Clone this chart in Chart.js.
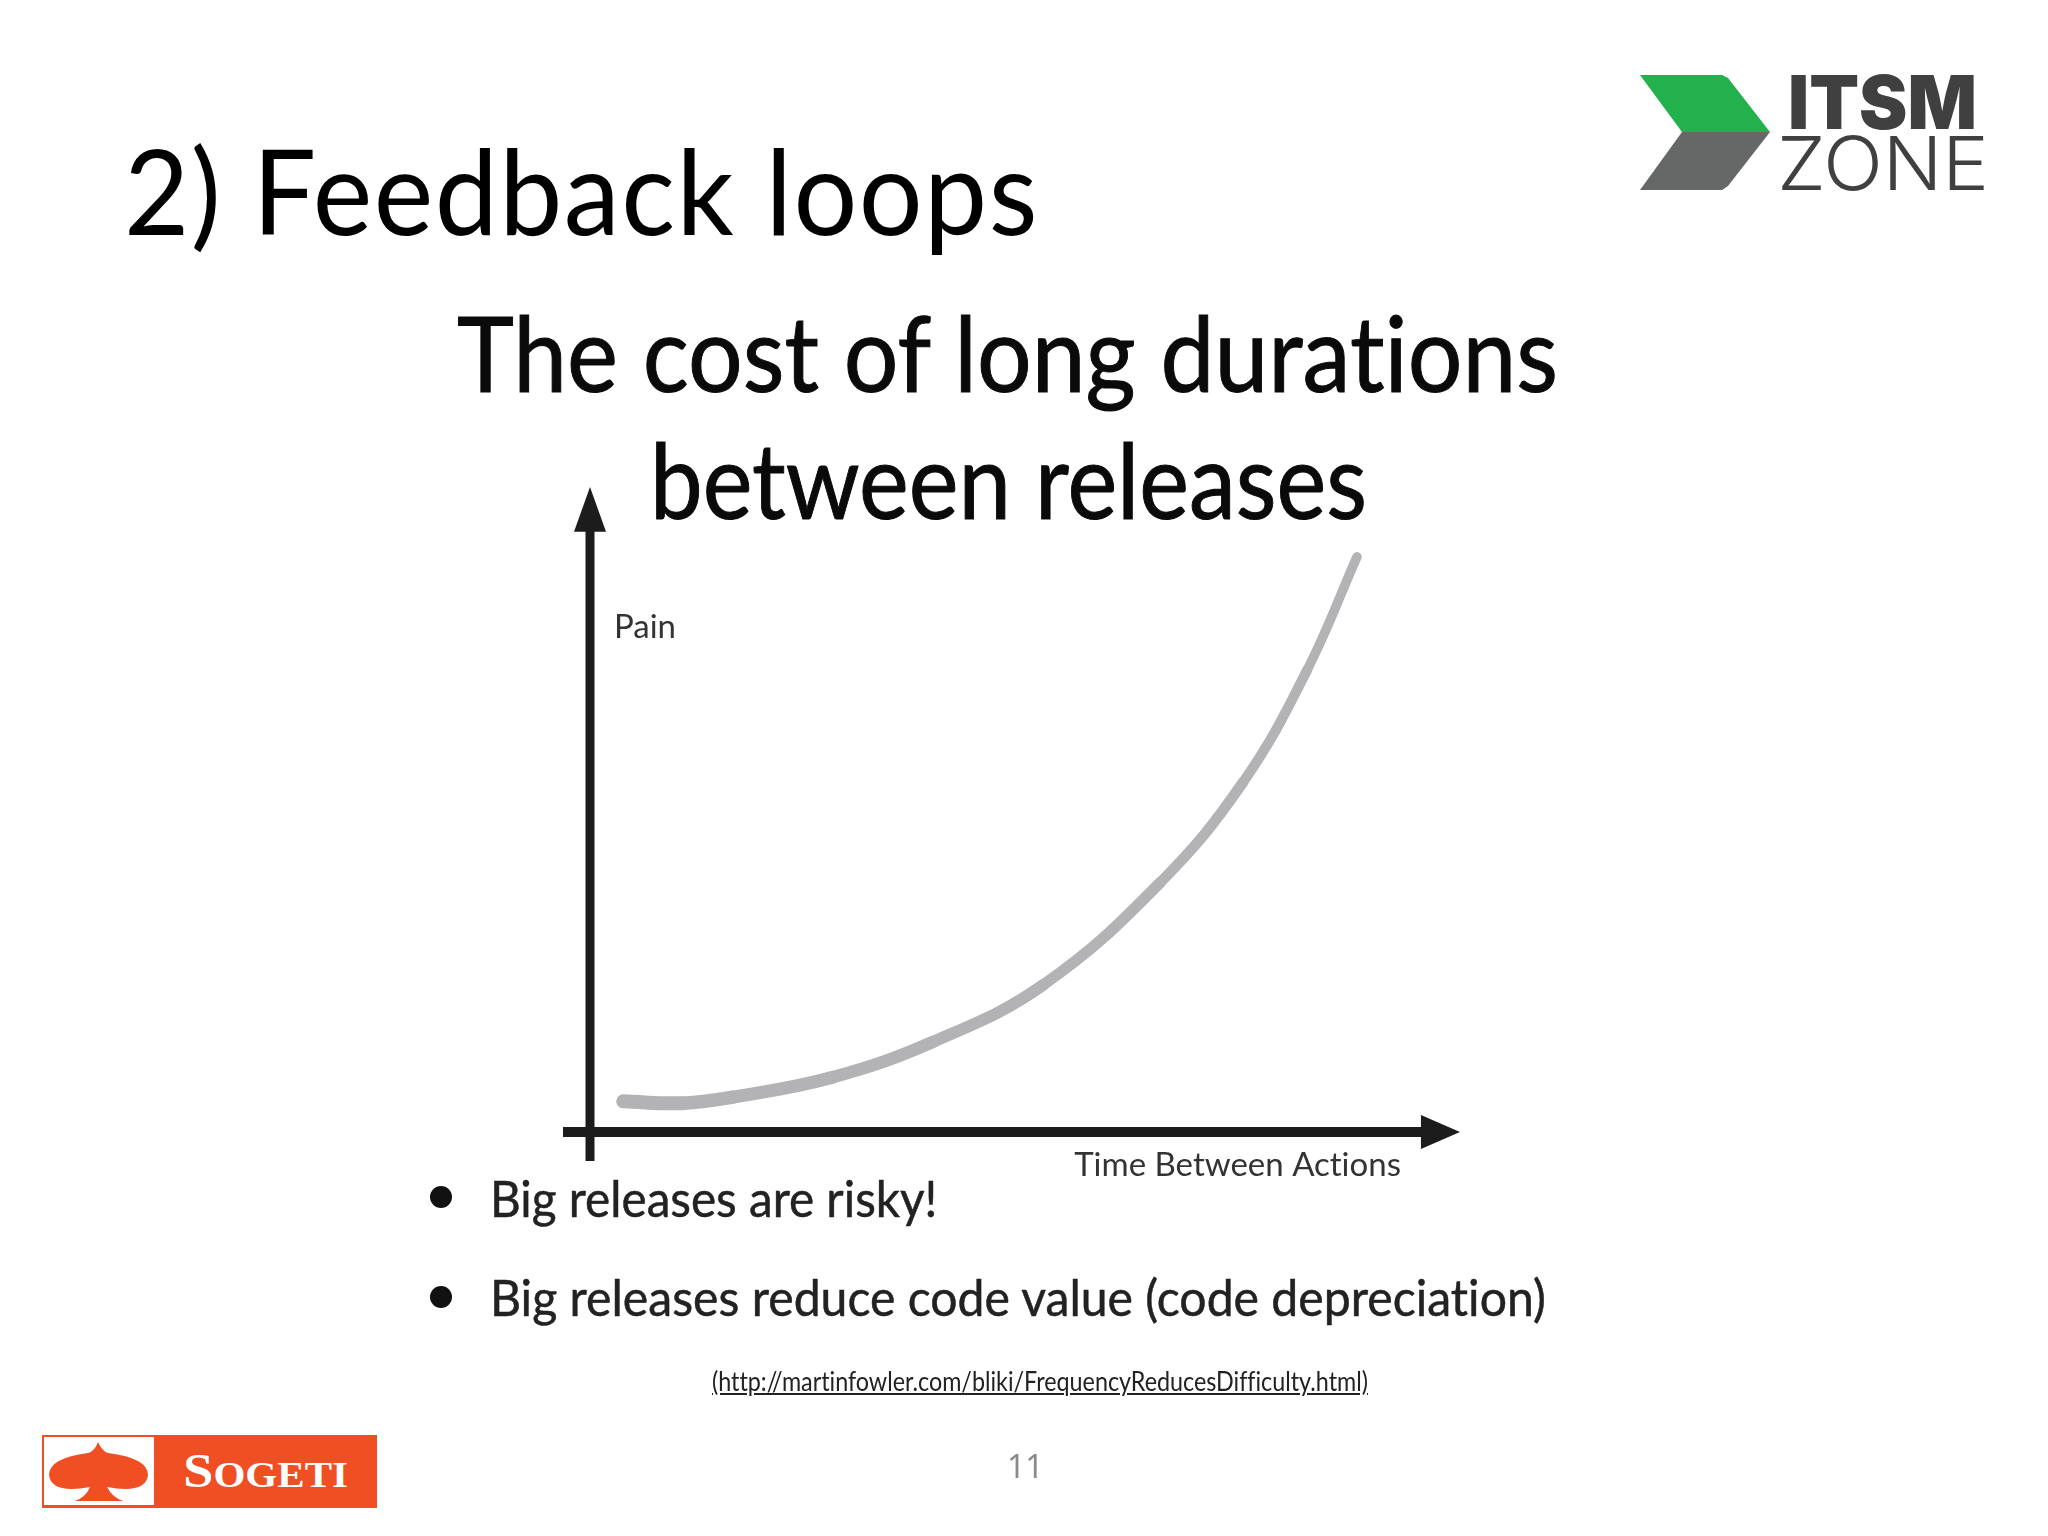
<!DOCTYPE html>
<html>
<head>
<meta charset="utf-8">
<title>Feedback loops</title>
<script src="https://cdn.jsdelivr.net/npm/chart.js@4"></script>
<style>
html, body { margin: 0; padding: 0; background: #fff; }
#slide { position: relative; width: 2048px; height: 1536px; overflow: hidden; font-family: Lato, sans-serif; color: #111; font-variant-ligatures: none; }
#slide > div, #slide > svg, #slide > canvas { position: absolute; white-space: nowrap; transform-origin: left top; }
#myChart { left: 0; top: 0; }
#heading { left: 124px; top: 125px; font-size: 118px; line-height: 130px; color: #000; letter-spacing: 1.5px; transform: scaleX(0.955); }
.chartTitle { font-size: 104px; line-height: 120px; color: #0a0a0a; -webkit-text-stroke: 1px #0a0a0a; }
.bullet { font-size: 50px; line-height: 60px; left: 490px; color: #222; -webkit-text-stroke: 0.5px #222; }
.dot { width: 22px; height: 22px; border-radius: 50%; background: #111; left: 430px; }
#source { left: 712px; top: 1365px; font-size: 26px; line-height: 32px; text-decoration: underline; color: #222; transform: scaleX(0.897); }
#pageNo { left: 1007px; top: 1446px; font-size: 32px; line-height: 40px; color: #8a8a8a; font-family: "Noto Sans", sans-serif; }
</style>
</head>
<body>
<div id="slide">
  <canvas id="myChart" width="2048" height="1536"></canvas>
  <div id="heading">2) Feedback loops</div>
  <div class="chartTitle" style="left:457px;top:292px;transform:scaleX(0.928)">The cost of long durations</div>
  <div class="chartTitle" style="left:650px;top:419px;transform:scaleX(0.905)">between releases</div>
  <div class="dot" style="top:1186px"></div>
  <div class="bullet" style="top:1168px;transform:scaleX(0.953)">Big releases are risky!</div>
  <div class="dot" style="top:1286px"></div>
  <div class="bullet" style="top:1267px;transform:scaleX(0.963)">Big releases reduce code value (code depreciation)</div>
  <div id="source">(http://martinfowler.com/bliki/FrequencyReducesDifficulty.html)</div>
  <div id="pageNo">11</div>

  <svg style="left:1620px;top:60px" width="400" height="150" viewBox="1620 60 400 150">
    <polygon points="1640,75 1722,75 1728,78 1770,132 1682,132" fill="#22b14c"/>
    <polygon points="1682,132 1770,132 1728,186 1722,190 1640,190" fill="#666767"/>
    <text x="1788" y="129" font-family="Inter, sans-serif" font-weight="900" font-size="74" fill="#404041" textLength="189" lengthAdjust="spacingAndGlyphs">ITSM</text>
    <text x="1777" y="190" font-family="Inter, sans-serif" font-weight="300" font-size="74" fill="#404041" textLength="212" lengthAdjust="spacingAndGlyphs">ZONE</text>
  </svg>

  <svg style="left:30px;top:1425px" width="360" height="95" viewBox="30 1425 360 95">
    <rect x="42" y="1435" width="335" height="73" fill="#f04e23"/>
    <rect x="44" y="1437" width="110" height="68" fill="#fff"/>
    <path d="M98 1442 Q102 1451 108 1453 Q148 1458 148 1475 Q146 1494 107 1487 Q112 1497 123 1501 L75 1501 Q86 1497 90 1487 Q51 1494 49 1475 Q49 1458 88 1453 Q95 1451 98 1442 Z" fill="#f04e23"/>
    <text x="183" y="1487" font-family="'Liberation Serif', serif" font-weight="700" fill="#fff" font-size="36" textLength="165" lengthAdjust="spacingAndGlyphs"><tspan font-size="48">S</tspan>OGETI</text>
  </svg>
</div>

<script>
// curve, percent of the drawn axes
const curveX = [4.0, 11.2, 17.2, 29.2, 41.3, 54.5, 68.6, 78.6, 86.3, 92.3];
const curveY = [5.1, 4.8, 5.8, 9.1, 15.0, 24.4, 41.4, 58.1, 76.7, 95.5];
const xAxisX = [-3.25, 100];
const xAxisY = [0, 0];
const yAxisX = [0, 0];
const yAxisY = [-4.8, 100];
const xLabel = 'Time Between Actions';
const yLabel = 'Pain';

function toPoints(xs, ys) {
    return xs.map((x, i) => ({ x: x, y: ys[i] }));
}

const AXIS_COLOR = '#1c1c1c';

const axisDecor = {
    id: 'axisDecor',
    afterDatasetsDraw(chart) {
        const { ctx, scales } = chart;
        const x = scales.x, y = scales.y;
        const x0 = x.getPixelForValue(0), y0 = y.getPixelForValue(0);
        ctx.save();
        ctx.fillStyle = AXIS_COLOR;
        // arrow heads
        ctx.beginPath();
        ctx.moveTo(x0, y.top);
        ctx.lineTo(x0 + 16, y.getPixelForValue(100) + 2);
        ctx.lineTo(x0 - 16, y.getPixelForValue(100) + 2);
        ctx.closePath();
        ctx.fill();
        ctx.beginPath();
        ctx.moveTo(x.right, y0);
        ctx.lineTo(x.getPixelForValue(100), y0 - 17);
        ctx.lineTo(x.getPixelForValue(100), y0 + 17);
        ctx.closePath();
        ctx.fill();
        // axis names
        ctx.fillStyle = '#333';
        ctx.font = '33px Lato, sans-serif';
        ctx.textBaseline = 'alphabetic';
        ctx.textAlign = 'left';
        ctx.fillText(yLabel, x0 + 24, y.getPixelForValue(82));
        ctx.textAlign = 'right';
        ctx.fillText(xLabel, x.getPixelForValue(100) - 20, y0 + 44);
        ctx.restore();
    }
};

new Chart(document.getElementById('myChart').getContext('2d'), {
    type: 'line',
    data: {
        datasets: [
            {
                label: 'Pain',
                data: toPoints(curveX, curveY),
                borderColor: '#b3b3b6',
                borderWidth: 12,
                borderCapStyle: 'round',
                tension: 0.4,
                pointRadius: 0,
                // the stroke thins out toward the top end
                segment: {
                    borderWidth: ctx => 14 - 5 * ctx.p0DataIndex / (curveX.length - 1)
                }
            },
            {
                label: 'y axis',
                data: toPoints(yAxisX, yAxisY),
                borderColor: AXIS_COLOR,
                borderWidth: 9,
                borderCapStyle: 'round',
                pointRadius: 0
            },
            {
                label: 'x axis',
                data: toPoints(xAxisX, xAxisY),
                borderColor: AXIS_COLOR,
                borderWidth: 10,
                borderCapStyle: 'round',
                pointRadius: 0
            }
        ]
    },
    options: {
        responsive: false,
        animation: false,
        devicePixelRatio: 1,
        layout: { padding: { left: 563, right: 588, top: 487, bottom: 375 } },
        plugins: { legend: { display: false }, title: { display: false }, tooltip: { enabled: false } },
        scales: {
            x: { type: 'linear', display: false, min: -3.25, max: 104.7 },
            y: { type: 'linear', display: false, min: -4.8, max: 107.1 }
        }
    },
    plugins: [axisDecor]
});
</script>
</body>
</html>
